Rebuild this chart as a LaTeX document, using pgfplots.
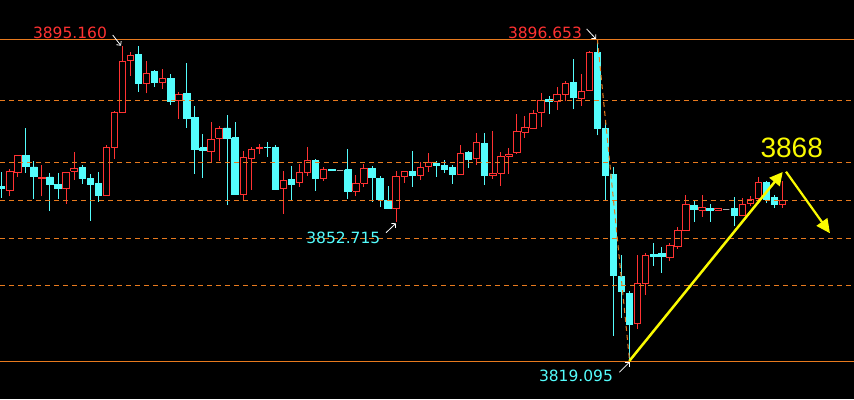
\documentclass[border=0pt]{standalone}
\usepackage{pgfplots}
\usepackage{pgfplotstable}
\pgfplotsset{compat=1.18}
\usetikzlibrary{arrows.meta}
\usepackage{fontspec}
\setmainfont{DejaVu Sans}
\newfontfamily\arialfont{Liberation Sans}
\definecolor{upred}{RGB}{255,50,50}
\definecolor{downcyan}{RGB}{84,252,252}
\definecolor{dojigray}{RGB}{170,170,170}
\definecolor{lvl}{RGB}{232,122,30}
\definecolor{yel}{RGB}{250,250,0}

\pgfplotstableread{
o h l c
3861.1 3864.8 3858.5 3860.7
3860.2 3865.3 3858.8 3864.9
3864.5 3868.7 3863.5 3868.7
3868.7 3875.2 3864.5 3866.0
3865.9 3867.3 3858.2 3863.6
3863.1 3866.4 3858.8 3863.5
3863.5 3864.5 3855.3 3861.6
3861.8 3864.4 3858.2 3860.7
3860.7 3864.7 3857.1 3864.7
3864.9 3869.5 3862.8 3865.6
3865.7 3866.4 3861.9 3863.1
3863.2 3864.2 3853.0 3861.6
3862.0 3864.7 3857.5 3859.0
3859.0 3871.1 3859.0 3870.6
3870.6 3879.4 3867.8 3879.1
3879.1 3895.16 3879.1 3891.4
3891.5 3893.6 3887.9 3892.8
3892.9 3895.0 3884.0 3886.0
3886.1 3891.4 3883.6 3888.5
3889.0 3889.3 3885.2 3886.2
3886.3 3889.4 3884.7 3887.3
3887.3 3888.2 3880.9 3881.6
3882.0 3884.0 3877.5 3883.4
3883.7 3891.0 3875.3 3877.5
3877.9 3880.5 3864.3 3870.1
3870.5 3873.8 3863.3 3869.9
3869.6 3876.7 3867.2 3872.6
3872.8 3875.7 3867.4 3875.2
3875.3 3878.4 3856.7 3872.7
3872.9 3876.7 3859.4 3859.4
3859.4 3869.7 3858.0 3868.2
3867.9 3870.6 3860.4 3870.2
3870.3 3871.4 3869.0 3870.6
3870.6 3871.9 3868.4 3870.5
3870.6 3871.1 3860.4 3860.4
3860.7 3864.9 3854.6 3862.7
3862.9 3866.1 3857.7 3861.8
3862.1 3866.5 3861.2 3864.6
3864.5 3870.6 3863.8 3867.5
3867.5 3867.8 3860.2 3863.1
3863.1 3865.9 3862.6 3865.3
3865.3 3865.3 3865.0 3865.0
3865.1 3865.1 3865.1 3865.1
3865.2 3870.2 3858.3 3860.0
3860.0 3864.0 3858.8 3862.0
3862.0 3866.5 3861.2 3865.6
3865.6 3866.1 3857.5 3863.3
3863.2 3863.7 3856.3 3858.0
3857.9 3861.3 3855.8 3855.8
3855.8 3864.9 3852.715 3863.6
3863.6 3864.9 3862.1 3864.9
3864.9 3869.7 3861.2 3863.8
3863.9 3867.2 3862.8 3865.8
3866.1 3869.2 3864.8 3867.0
3866.8 3867.3 3863.6 3866.2
3866.3 3867.5 3864.5 3865.4
3865.8 3866.4 3861.9 3864.0
3864.0 3871.1 3864.0 3869.2
3869.4 3869.7 3865.7 3867.6
3868.0 3874.0 3866.4 3871.8
3871.6 3874.0 3861.6 3863.8
3863.8 3874.5 3863.1 3864.4
3864.4 3869.4 3861.4 3868.5
3868.5 3870.4 3864.3 3869.0
3869.3 3878.6 3869.1 3874.5
3874.3 3878.3 3873.0 3875.5
3875.2 3879.6 3875.2 3878.8
3879.1 3883.6 3875.5 3882.0
3882.2 3882.9 3878.6 3881.7
3881.7 3885.1 3879.6 3883.4
3883.4 3886.5 3881.7 3886.1
3886.3 3891.8 3879.8 3882.6
3882.4 3888.3 3880.7 3884.1
3884.4 3893.8 3884.4 3893.5
3893.5 3896.653 3873.5 3875.1
3875.2 3876.4 3858.0 3863.8
3864.0 3865.9 3825.3 3839.7
3839.6 3844.7 3829.6 3835.9
3835.5 3836.1 3819.095 3828.0
3828.1 3844.7 3826.9 3837.9
3837.8 3845.1 3835.1 3844.6
3844.9 3847.5 3842.1 3844.3
3845.1 3846.6 3840.4 3844.3
3844.0 3847.5 3843.3 3847.0
3846.7 3851.4 3846.1 3850.6
3850.6 3859.2 3850.6 3856.9
3856.7 3857.7 3852.7 3855.6
3855.5 3859.1 3853.9 3856.2
3856.0 3856.9 3852.7 3855.4
3855.5 3855.8 3855.5 3855.8
3855.7 3855.7 3855.7 3855.7
3855.8 3858.6 3851.8 3854.2
3854.2 3858.4 3854.2 3856.9
3857.1 3858.8 3856.5 3858.2
3858.4 3863.6 3857.9 3862.2
3862.2 3862.5 3857.2 3858.2
3858.6 3859.2 3856.1 3856.8
3856.8 3862.5 3856.1 3857.9
}\candles

\begin{document}
\begin{tikzpicture}
\fill[black] (0pt,0pt) rectangle (854pt,399pt);
\begin{axis}[
  at={(0pt,0pt)}, anchor=south west,
  width=854pt, height=399pt, scale only axis, hide axis,
  xmin=0.789, xmax=106.876, ymin=3810.02, ymax=3906.12,
]
\pgfplotstablegetrowsof{\candles}
\pgfmathtruncatemacro{\N}{\pgfplotsretval-1}
\pgfplotsforeachungrouped \r in {0,...,\N}{%
  \pgfplotstablegetelem{\r}{o}\of\candles \edef\O{\pgfplotsretval}%
  \pgfplotstablegetelem{\r}{h}\of\candles \edef\H{\pgfplotsretval}%
  \pgfplotstablegetelem{\r}{l}\of\candles \edef\L{\pgfplotsretval}%
  \pgfplotstablegetelem{\r}{c}\of\candles \edef\C{\pgfplotsretval}%
  \pgfmathsetmacro{\X}{\r+1}%
  \pgfmathsetmacro{\XL}{\r+1-0.4}%
  \pgfmathsetmacro{\XR}{\r+1+0.4}%
  \pgfmathtruncatemacro{\kind}{(\C>\O) ? 1 : ((\C<\O) ? 2 : 0)}%
  \ifcase\kind \def\col{dojigray}\def\fil{dojigray}%
  \or \def\col{upred}\def\fil{black}%
  \or \def\col{downcyan}\def\fil{downcyan}\fi
  \edef\tmp{%
    \noexpand\addplot[draw=\col, line width=1pt] coordinates {(\X,\L) (\X,\H)};%
    \noexpand\addplot[draw=\col, fill=\fil, line width=0.9pt] coordinates {(\XL,\O) (\XR,\O) (\XR,\C) (\XL,\C) (\XL,\O)};%
  }%
  \tmp
}
% levels
\addplot[lvl, line width=0.9pt] coordinates {(0.789,3896.653) (106.876,3896.653)};
\addplot[lvl, line width=0.9pt] coordinates {(0.789,3819.095) (106.876,3819.095)};
\addplot[lvl, line width=1pt, dash pattern=on 5pt off 4pt] coordinates {(0.789,3882.0) (106.876,3882.0)};
\addplot[lvl, line width=1pt, dash pattern=on 5pt off 4pt] coordinates {(0.789,3867.0) (106.876,3867.0)};
\addplot[lvl, line width=1pt, dash pattern=on 5pt off 4pt] coordinates {(0.789,3857.9) (106.876,3857.9)};
\addplot[lvl, line width=1pt, dash pattern=on 5pt off 4pt] coordinates {(0.789,3848.7) (106.876,3848.7)};
\addplot[lvl, line width=1pt, dash pattern=on 5pt off 4pt] coordinates {(0.789,3837.4) (106.876,3837.4)};
\addplot[lvl, line width=1pt, dash pattern=on 5pt off 4pt] coordinates {(75,3896.653) (79,3819.095)};
\end{axis}
\begin{scope}[shift={(0pt,399pt)}, x=1pt, y=-1pt]
  \node[anchor=base, inner sep=0pt, text=upred, font=\fontsize{15.5}{16}\selectfont] at (70,38.3) {3895.160};
  \node[anchor=base, inner sep=0pt, text=upred, font=\fontsize{15.5}{16}\selectfont] at (545,38.3) {3896.653};
  \node[anchor=base, inner sep=0pt, text=downcyan, font=\fontsize{15.5}{16}\selectfont] at (343.3,243.3) {3852.715};
  \node[anchor=base, inner sep=0pt, text=downcyan, font=\fontsize{15.5}{16}\selectfont] at (576,381.7) {3819.095};
  \node[anchor=base, inner sep=0pt, text=yel, font=\arialfont\fontsize{28}{30}\selectfont] at (791.7,157.3) {3868};
  \draw[white, line width=0.8pt, -{Straight Barb[length=3pt,width=6pt]}] (112.7,35) -- (121,45.7);
  \draw[white, line width=0.8pt, -{Straight Barb[length=3pt,width=6pt]}] (586.7,29) -- (596,39);
  \draw[white, line width=0.8pt, -{Straight Barb[length=3pt,width=6pt]}] (386,232.7) -- (396,223.3);
  \draw[white, line width=0.8pt, -{Straight Barb[length=3pt,width=6pt]}] (619.3,372.3) -- (629.3,362.3);
  \draw[yel, line width=2.5pt, -{Triangle[length=13pt,width=13pt]}] (629.3,361) -- (782.7,172);
  \draw[yel, line width=2.2pt, -{Triangle[length=14pt,width=13pt]}] (786,171.7) -- (830,233.3);
\end{scope}
\end{tikzpicture}
\end{document}
